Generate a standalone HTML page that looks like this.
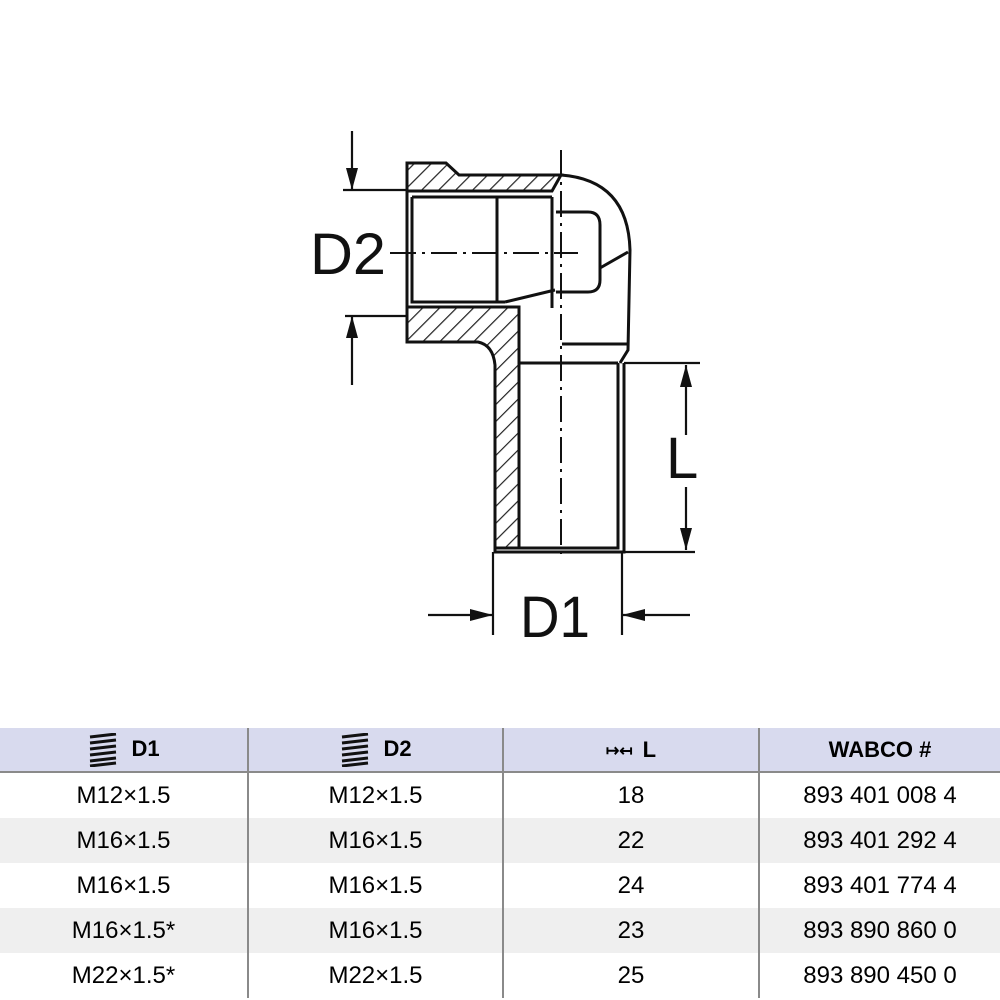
<!DOCTYPE html>
<html><head><meta charset="utf-8"><style>
body{margin:0;width:1000px;height:1000px;background:#fff;overflow:hidden;font-family:"Liberation Sans",Arial,sans-serif;position:relative}
svg{position:absolute;left:0;top:0}
table{position:absolute;left:0;top:728px;width:1000px;border-collapse:collapse;table-layout:fixed}
td{text-align:center;font-size:24px;color:#000;padding:0;height:45px;border-left:2px solid #8a8a8a}
td:first-child{border-left:none}
tr.h td{background:#d8daee;font-weight:bold;font-size:22px;height:43px;border-bottom:2px solid #8a8a8a}
tr.g td{background:#efefef}
.ic{display:inline-block;vertical-align:middle;margin-right:12px}
</style></head><body>
<svg width="1000" height="720" viewBox="0 0 1000 720">
<defs>
<pattern id="h" width="12" height="12" patternUnits="userSpaceOnUse" patternTransform="rotate(45)">
<rect width="12" height="12" fill="#fff"/><line x1="0" y1="0" x2="0" y2="12" stroke="#222" stroke-width="2.4"/>
</pattern>
</defs>
<g stroke="#111" stroke-width="3" fill="none">
<path d="M407 163 L446 163 L459 175 L561 175 L552 191 L407 191 Z" fill="url(#h)"/>
<path d="M407 307 L505 307 L519 307 L519 548 L495 548 L495 365 Q493 345 478 342 L407 342 Z" fill="url(#h)"/>
<path d="M561 175 Q628 180 630 250 L628 350 L620 363"/>
<path d="M407 163 L407 342"/>
<path d="M495 548 L495 552 L624 552 L624 363"/>
<path d="M618 363 L618 548 L519 548"/>
<path d="M519 363 L618 363"/>
<path d="M412 197 L552 197 M412 197 L412 302 L505 302"/>
<path d="M497 197 L497 302"/>
<path d="M552 197 L552 308"/>
<path d="M505 302 L555 290"/>
<path d="M556 212 L588 212 Q600 212 600 225 L600 280 Q600 292 588 292 L556 292"/>
<path d="M600 268 L628 252"/>
<path d="M562 344 L628 344"/>
<path d="M561 150 L561 560" stroke-width="2" stroke-dasharray="26 6 3 6"/>
<path d="M390 253 L578 253" stroke-width="2" stroke-dasharray="26 6 3 6"/>
<path d="M343 190 L407 190 M345 316 L407 316" stroke-width="2.2"/>
<path d="M352 131 L352 190 M352 316 L352 385" stroke-width="2.2"/>
<path d="M624 363 L700 363 M624 552 L695 552 M686 365 L686 435 M686 487 L686 550" stroke-width="2.2"/>
<path d="M493 552 L493 635 M622 552 L622 635 M428 615 L493 615 M622 615 L690 615" stroke-width="2.2"/>
</g>
<g fill="#111">
<polygon points="346,168 358,168 352,190"/>
<polygon points="346,338 358,338 352,316"/>
<polygon points="680,387 692,387 686,365"/>
<polygon points="680,528 692,528 686,550"/>
<polygon points="470,609 470,621 493,615"/>
<polygon points="645,609 645,621 622,615"/>
</g>
<g font-family="Liberation Sans,Arial,sans-serif" font-size="58" fill="#111">
<text x="310" y="274" textLength="76" lengthAdjust="spacingAndGlyphs">D2</text>
<text x="666" y="478">L</text>
<text x="520" y="637" textLength="70" lengthAdjust="spacingAndGlyphs">D1</text>
</g>
</svg>
<table>
<colgroup><col style="width:248px"><col style="width:255px"><col style="width:256px"><col></colgroup>
<tr class="h">
<td><svg class="ic" width="32" height="34" viewBox="0 0 32 34" style="position:static"><g stroke="#111" stroke-width="3" fill="none"><path d="M3 4 L29 1 M3 10 L29 7 M3 16 L29 13 M3 22 L29 19 M3 28 L29 25 M3 33 L29 30"/></g></svg>D1</td>
<td><svg class="ic" width="32" height="34" viewBox="0 0 32 34" style="position:static"><g stroke="#111" stroke-width="3" fill="none"><path d="M3 4 L29 1 M3 10 L29 7 M3 16 L29 13 M3 22 L29 19 M3 28 L29 25 M3 33 L29 30"/></g></svg>D2</td>
<td><span style="font-size:16px;margin-right:10px;vertical-align:middle">&#8614;&#8612;</span>L</td>
<td>WABCO #</td>
</tr>
<tr><td>M12×1.5</td><td>M12×1.5</td><td>18</td><td>893 401 008 4</td></tr>
<tr class="g"><td>M16×1.5</td><td>M16×1.5</td><td>22</td><td>893 401 292 4</td></tr>
<tr><td>M16×1.5</td><td>M16×1.5</td><td>24</td><td>893 401 774 4</td></tr>
<tr class="g"><td>M16×1.5*</td><td>M16×1.5</td><td>23</td><td>893 890 860 0</td></tr>
<tr><td>M22×1.5*</td><td>M22×1.5</td><td>25</td><td>893 890 450 0</td></tr>
</table>
</body></html>
